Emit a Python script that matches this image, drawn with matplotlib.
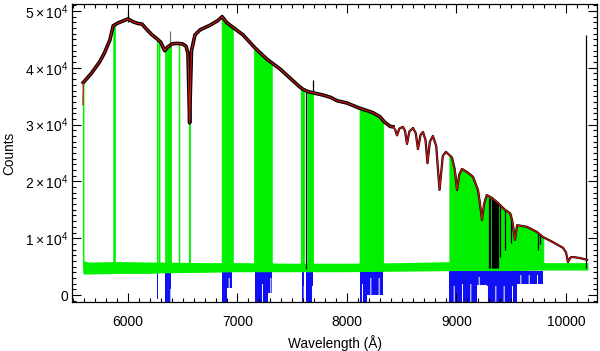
import numpy as np
import matplotlib
matplotlib.use("Agg")
import matplotlib.pyplot as plt
from matplotlib.ticker import MultipleLocator, FixedLocator, FixedFormatter

plt.rcParams['font.family'] = ['Liberation Sans', 'DejaVu Sans']
plt.rcParams['mathtext.fontset'] = 'custom'
plt.rcParams['mathtext.rm'] = 'Liberation Sans'
plt.rcParams['mathtext.it'] = 'Liberation Sans:italic'
plt.rcParams['mathtext.bf'] = 'Liberation Sans:bold'
plt.rcParams['hatch.linewidth'] = 0.7

# ---------------- data ----------------
# observed spectrum / model (counts)
spec_wl = [5592, 5665, 5740, 5785, 5835, 5865, 5910, 5975, 6000, 6046, 6090,
           6128, 6174, 6220, 6265, 6300, 6335, 6360, 6400, 6450, 6500, 6530, 6548,
           6556, 6563, 6570, 6580, 6612, 6660, 6750, 6820, 6860, 6900, 6960, 7050,
           7160, 7270, 7388, 7479, 7571, 7600, 7644, 7690, 7781, 7850, 7909, 8000,
           8100, 8237, 8300, 8340, 8393, 8420, 8440, 8457, 8478, 8511, 8530, 8548,
           8570, 8603, 8628, 8648, 8672, 8694, 8717, 8735, 8757, 8785, 8815, 8845,
           8875, 8904, 8959, 8985, 9005, 9025, 9050, 9100, 9151, 9196, 9215, 9233,
           9252, 9276, 9324, 9379, 9443, 9489, 9510, 9534, 9553, 9644, 9735, 9790,
           9881, 9973, 10000, 10018, 10040, 10064, 10128, 10192]
spec_counts = [37400, 39000, 41000, 42600, 44900, 47400, 47900, 48400, 48600, 48100, 47800,
               47700, 46700, 45800, 45100, 44500, 43000, 43600, 44200, 44300, 44200, 43800, 42500,
               36000, 30300, 36000, 43000, 45800, 46700, 47500, 48300, 49000, 48000, 47100, 45800,
               43500, 41500, 39800, 38200, 36600, 36200, 35800, 35600, 35200, 34800, 34200, 33800,
               33000, 32100, 31400, 30500, 29700, 29600, 29100, 28100, 29300, 29600, 28900, 26600,
               28800, 29400, 28500, 25700, 28200, 28700, 27300, 23200, 27000, 28000, 26200, 18500,
               24500, 25200, 24200, 22000, 18500, 21200, 22200, 21600, 20800, 18500, 16000, 13200,
               16000, 17600, 17100, 16200, 15000, 14400, 13000, 9700, 12300, 12000, 11100, 10200,
               9300, 8300, 7500, 5800, 6600, 6700, 6500, 6200]
# model starts slightly below the data at the blue end
model_start_wl = [5588, 5592]
model_start_counts = [33500, 37400]

# green residual baseline band (counts)
base_wl = [5588, 5596, 5650, 5900, 6200, 6300, 6700, 7000, 7500, 8000, 8500, 9000, 9500, 9800, 10000, 10200]
base_lo = [3800, 3700, 3700, 3800, 3800, 3900, 4000, 4100, 4100, 4100, 4200, 4300, 4300, 4400, 4400, 4400]
base_hi = [8500, 6000, 5800, 5900, 5800, 5800, 5700, 5700, 5600, 5600, 5700, 5900, 5900, 5700, 5700, 5700]

# green telluric bands (wavelength ranges, Angstrom)
green_start = [5588, 5866, 6264, 6282, 6340, 6360, 6463, 6557, 6856, 7152, 7578, 7638, 8115, 8935]
green_end = [5594, 5880, 6271, 6288, 6354, 6392, 6469, 6568, 6957, 7313, 7606, 7690, 8330, 9793]

# blue residuals below the baseline (ranges and depths, counts)
blue_start = [6262, 6338, 6359, 6856, 6901, 7160, 7280, 7586, 7625, 8119, 8180, 8934, 9001, 9184, 9276, 9550]
blue_end = [6277, 6353, 6390, 6901, 6947, 7280, 7312, 7612, 7692, 8180, 8332, 9001, 9184, 9276, 9550, 9793]
blue_mid = [2500, 1500, 1000, 2000, 3000, 2000, 3000, 1500, 1500, 2000, 3000, 1500, 2000, 3200, 1500, 3500]
blue_deep = [-700, -1500, -1500, -1500, 1200, -1500, 300, -1500, -1500, -1500, 0, -1500, -1500, 1800, -1500, 2000]

# black vertical features (telluric cores, spikes)
vline_wl = [7625, 9300, 9310, 9320, 9330, 9340, 9350, 9360, 9370, 9380, 9397, 9443, 9495,
            9747, 9762, 10183, 6000, 7690]
vline_lo = [4500, 4800, 4800, 4800, 4800, 4800, 4800, 4800, 4800, 4800, 6700, 7900, 9200,
            7900, 9000, 4800, 48000, 35500]
vline_hi = [36000, 17100, 17000, 16900, 16800, 16700, 16500, 16400, 16300, 16200, 15800, 15000, 14300,
            11000, 10800, 45800, 49800, 37800]
gray_spike_wl = [6384]
gray_spike_lo = [43500]
gray_spike_hi = [46500]

xticks = [6000, 7000, 8000, 9000, 10000]
yticks = [0, 10000, 20000, 30000, 40000, 50000]
ytick_labels = ['0', r'$1\times10^{4}$', r'$2\times10^{4}$', r'$3\times10^{4}$',
                r'$4\times10^{4}$', r'$5\times10^{4}$']

# ---------------- drawing ----------------
fig = plt.figure(figsize=(6.0, 3.51), dpi=100)
ax = fig.add_axes([0.12, 0.1396, 0.875, 0.849])

GREEN = '#00f000'
BLUE = '#1010f5'

swl = np.array(spec_wl, float)
sct = np.array(spec_counts, float)
mwl = np.concatenate([model_start_wl[:-1], swl])
mct = np.concatenate([model_start_counts[:-1], sct])

# blue residuals: solid near baseline, streaky deeper down
for s, e, m, d in zip(blue_start, blue_end, blue_mid, blue_deep):
    ax.fill_between([s, e], [4300, 4300], [m, m], color=BLUE, lw=0, zorder=1)
    if d < m:
        ax.fill_between([s, e], [m, m], [d, d], facecolor=BLUE, edgecolor='white',
                        hatch='||', lw=0, zorder=1)

# green bands from baseline to spectrum
for s, e in zip(green_start, green_end):
    xx = np.linspace(s, e, 60)
    top = np.interp(xx, mwl, mct)
    ax.fill_between(xx, 4800, top, color=GREEN, lw=0.6, edgecolor=GREEN, zorder=2)

# green baseline band
ax.fill_between(base_wl, base_lo, base_hi, color=GREEN, lw=0, zorder=3)

# black vertical features
ax.vlines(vline_wl, vline_lo, vline_hi, color='black', lw=0.9, zorder=4)
ax.vlines(gray_spike_wl, gray_spike_lo, gray_spike_hi, color='#777777', lw=0.9, zorder=4)

# spectrum (black) and model (red)
noisy = swl <= 8420
ax.plot(swl[noisy], sct[noisy], color='black', lw=2.6, zorder=5, solid_joinstyle='round')
ax.plot(swl[~noisy], sct[~noisy], color='black', lw=1.6, zorder=5, solid_joinstyle='round')
ax.plot(mwl, mct, color='#c81414', lw=0.9, zorder=6)

ax.set_xlim(5489, 10283)
ax.set_ylim(-1230, 51230)

ax.xaxis.set_major_locator(FixedLocator(xticks))
ax.xaxis.set_minor_locator(MultipleLocator(100))
ax.yaxis.set_major_locator(FixedLocator(yticks))
ax.yaxis.set_major_formatter(FixedFormatter(ytick_labels))
ax.yaxis.set_minor_locator(MultipleLocator(1000))

ax.tick_params(which='both', direction='in', top=True, right=True, width=0.8, colors='black')
ax.tick_params(which='major', length=6.5, labelsize=10)
ax.tick_params(axis='x', which='major', pad=9)
ax.tick_params(axis='y', which='major', pad=3)
ax.tick_params(which='minor', length=3.2)
for sp in ax.spines.values():
    sp.set_linewidth(0.9)

ax.set_xlabel('Wavelength (Å)', fontsize=9.8, labelpad=5)
ax.set_ylabel('Counts', fontsize=9.8, labelpad=6)

fig.savefig('out.png', dpi=100)
